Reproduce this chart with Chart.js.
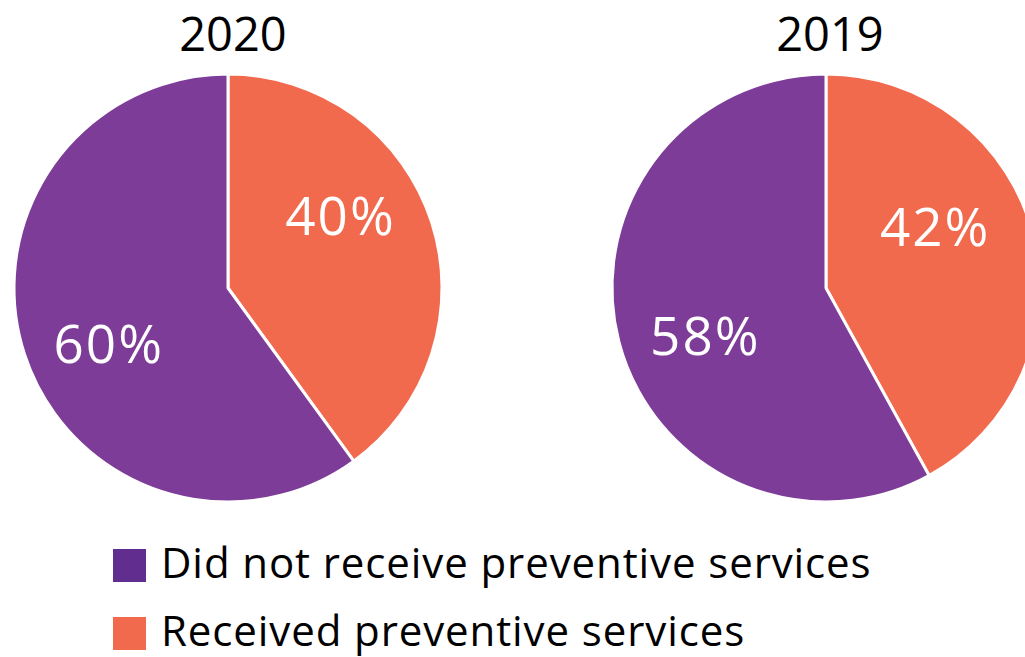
<!DOCTYPE html>
<html>
<head>
<meta charset="utf-8">
<script src="https://cdn.jsdelivr.net/npm/chart.js@4/dist/chart.umd.min.js"></script>
<style>
  html, body { margin: 0; padding: 0; background: #fff; }
  body { width: 1025px; height: 657px; overflow: hidden; position: relative; font-family: 'Open Sans', sans-serif; }
  .pie { position: absolute; top: 60px; width: 456px; height: 456px; }
  .pie canvas { width: 456px; height: 456px; }
  .title { position: absolute; top: 5px; width: 300px; text-align: center; font-size: 47px; color: #000; line-height: 56px; }
  .legend { position: absolute; left: 113px; font-size: 42px; letter-spacing: 0.9px; color: #000; }
  .legend div { position: relative; height: 68px; line-height: 40px; white-space: nowrap; }
  .legend span.sw { display: inline-block; width: 33px; height: 33px; margin-right: 15px; vertical-align: -4px; }
</style>
</head>
<body>
<div class="title" id="t0" style="left:83px"></div>
<div class="title" id="t1" style="left:680px"></div>
<div class="pie" style="left:0px"><canvas id="pie-0" width="456" height="456"></canvas></div>
<div class="pie" style="left:598px"><canvas id="pie-1" width="456" height="456"></canvas></div>
<div class="legend" id="legend" style="top:542px"></div>
<script>
// data
const years = ['2020', '2019'];
const categories = ['Did not receive preventive services', 'Received preventive services'];
const didNotReceive = [60, 58];
const received = [40, 42];

const sliceColors = ['#7D3C98', '#F26A4E'];
const legendColors = ['#612D8F', '#F26A4E'];

// simple label plugin: text at mid-angle of each slice
const sliceLabels = {
  id: 'sliceLabels',
  afterDatasetsDraw(chart, args, opts) {
    const ctx = chart.ctx;
    const meta = chart.getDatasetMeta(0);
    ctx.save();
    ctx.fillStyle = '#fff';
    ctx.font = '53px "Open Sans", sans-serif';
    ctx.letterSpacing = '2px';
    ctx.textAlign = 'center';
    ctx.textBaseline = 'middle';
    meta.data.forEach((arc, i) => {
      const p = arc.getProps(['x', 'y', 'startAngle', 'endAngle', 'outerRadius'], true);
      const mid = (p.startAngle + p.endAngle) / 2 + (opts.shift[i] || 0) * Math.PI / 180;
      const d = p.outerRadius * opts.dist[i];
      const v = chart.data.datasets[0].data[i];
      ctx.fillText(v + '%', p.x + Math.cos(mid) * d, p.y + Math.sin(mid) * d + 2);
    });
    ctx.restore();
  }
};

years.forEach((yr, k) => {
  document.getElementById('t' + k).textContent = yr;
  // received slice first so it starts at 12 o'clock going clockwise
  new Chart(document.getElementById('pie-' + k), {
    type: 'pie',
    data: {
      labels: [categories[1], categories[0]],
      datasets: [{
        data: [received[k], didNotReceive[k]],
        backgroundColor: [sliceColors[1], sliceColors[0]],
        borderColor: '#fff',
        borderWidth: 3,
      }],
    },
    plugins: [sliceLabels],
    options: {
      responsive: false,
      animation: false,
      radius: 214,
      plugins: {
        legend: { display: false },
        tooltip: { enabled: false },
        sliceLabels: { shift: [-14, -8], dist: k === 0 ? [0.62, 0.62] : [0.58, 0.61] },
      },
    },
  });
});

const legend = document.getElementById('legend');
categories.forEach((c, i) => {
  const row = document.createElement('div');
  row.innerHTML = '<span class="sw" style="background:' + legendColors[i] + '"></span>' + c;
  legend.appendChild(row);
});
</script>
</body>
</html>
